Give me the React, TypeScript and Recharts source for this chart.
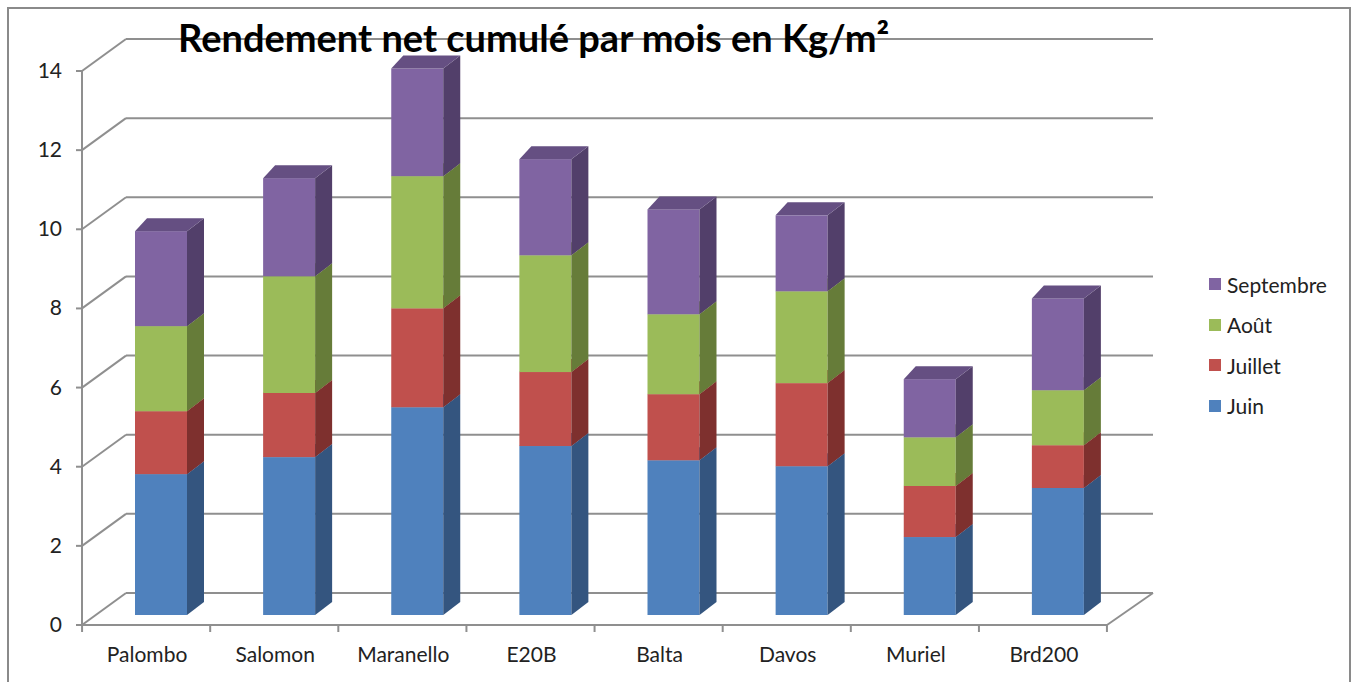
import { BarChart, Bar, XAxis, YAxis, CartesianGrid, Legend } from "recharts";

const varieties = ["Palombo", "Salomon", "Maranello", "E20B", "Balta", "Davos", "Muriel", "Brd200"];

// monthly net yield (kg/m²), stacked
const juin = [3.56, 3.99, 5.25, 4.27, 3.91, 3.76, 1.97, 3.21];
const juillet = [1.59, 1.62, 2.5, 1.87, 1.67, 2.1, 1.29, 1.08];
const aout = [2.15, 2.95, 3.34, 2.95, 2.02, 2.32, 1.23, 1.39];
const septembre = [2.4, 2.48, 2.72, 2.43, 2.65, 1.92, 1.47, 2.32];

const yTicks = [0, 2, 4, 6, 8, 10, 12, 14];

const SERIES = [
  { key: "juin", name: "Juin", front: "#4F81BD", side: "#34557F", top: "#4572A8" },
  { key: "juillet", name: "Juillet", front: "#C0504D", side: "#7E302E", top: "#A64340" },
  { key: "aout", name: "Août", front: "#9BBB59", side: "#667C39", top: "#86A34B" },
  { key: "septembre", name: "Septembre", front: "#8064A2", side: "#523F6A", top: "#654F82" },
];

const data = varieties.map((name, i) => ({
  name,
  juin: juin[i],
  juillet: juillet[i],
  aout: aout[i],
  septembre: septembre[i],
}));

const FONT = "Lato, 'Open Sans', sans-serif";
const GRID = "#8f8f8f";
// 3D offsets: front wall vs bar plane vs back wall
const FRONT_DY = 10;
const BACK_DY = -22;
const FRONT_DX = -15;
const BACK_DX = 29;
const LEGEND_W = 140;

const box3D = (front: string, side: string, top: string) => (props: any) => {
  const { x, y, width, height } = props;
  if (!height || height <= 0) return <g />;
  const r = x + width;
  const b = y + height;
  return (
    <g>
      <rect x={x} y={y} width={width} height={height} fill={front} />
      <polygon points={`${r},${y} ${r + 17},${y - 13} ${r + 17},${b - 13} ${r},${b}`} fill={side} />
      <polygon points={`${x},${y} ${r},${y} ${r + 17},${y - 13} ${x + 12},${y - 13}`} fill={top} />
    </g>
  );
};

const gridLine = (props: any) => {
  const { x1, x2, y1, y, height } = props;
  const bottom = y + height;
  const fx = x1 + FRONT_DX;
  const bx = x1 + BACK_DX;
  const fy = y1 + FRONT_DY;
  const by = y1 + BACK_DY;
  const isFloor = Math.abs(y1 - bottom) < 1;
  return (
    <g stroke={GRID} strokeWidth={2} fill="none">
      <line x1={bx} y1={by} x2={x2 + 31} y2={by} />
      <line x1={fx} y1={fy} x2={bx} y2={by} />
      <line x1={fx - 6} y1={fy} x2={fx} y2={fy} />
      <line x1={fx} y1={fy} x2={fx} y2={bottom + FRONT_DY} />
      {isFloor && (
        <>
          <line x1={fx} y1={fy} x2={x2 + FRONT_DX} y2={fy} />
          <line x1={x2 + FRONT_DX} y1={fy} x2={x2 + 31} y2={by} />
        </>
      )}
    </g>
  );
};

const YTick = (props: any) => {
  const { x, y, payload } = props;
  return (
    <text x={x - 35} y={y + FRONT_DY + 7} textAnchor="end" fontSize={21} fill="#222" fontFamily={FONT}>
      {payload.value}
    </text>
  );
};

const XTick = (props: any) => {
  const { x, y, payload, index } = props;
  const fy = y + FRONT_DY;
  return (
    <g>
      <line x1={x - 79} y1={fy} x2={x - 79} y2={fy + 7} stroke={GRID} strokeWidth={2} />
      {index === varieties.length - 1 && (
        <line x1={x + 49} y1={fy} x2={x + 49} y2={fy + 7} stroke={GRID} strokeWidth={2} />
      )}
      <text x={x - 14} y={y + 47} textAnchor="middle" fontSize={21} fill="#222" fontFamily={FONT}>
        {payload.value}
      </text>
    </g>
  );
};

const LegendBox = () => {
  const items = [...SERIES].reverse();
  return (
    <div style={{ fontFamily: FONT, fontSize: 21, color: "#222", width: LEGEND_W }}>
      {items.map((it) => (
        <div key={it.key} style={{ display: "flex", alignItems: "center", height: 40.5 }}>
          <span style={{ width: 12, height: 12, background: it.front, marginRight: 6, display: "inline-block" }} />
          <span>{it.name}</span>
        </div>
      ))}
    </div>
  );
};

export default function App() {
  return (
    <div style={{ position: "absolute", left: 0, top: 0, width: 1357, height: 682, background: "#fff", overflow: "hidden" }}>
      <div
        style={{
          position: "absolute",
          left: 7,
          top: 7,
          width: 1340,
          height: 700,
          border: "2px solid #8a8a8a",
        }}
      />
      <BarChart
        width={1357}
        height={682}
        data={data}
        margin={{ top: 61, right: 235 - LEGEND_W, left: 0, bottom: 0 }}
        barSize={52}
      >
        <CartesianGrid vertical={false} horizontal={gridLine} />
        <XAxis
          dataKey="name"
          height={67}
          tickSize={0}
          tickMargin={0}
          axisLine={false}
          tickLine={false}
          tick={<XTick />}
          interval={0}
        />
        <YAxis
          type="number"
          domain={[0, 14]}
          ticks={yTicks}
          width={97}
          tickSize={0}
          tickMargin={0}
          axisLine={false}
          tickLine={false}
          tick={<YTick />}
        />
        <Legend
          layout="vertical"
          align="right"
          verticalAlign="top"
          content={<LegendBox />}
          wrapperStyle={{ position: "absolute", left: 1209, top: 264, width: LEGEND_W }}
        />
        {SERIES.map((s) => (
          <Bar
            key={s.key}
            dataKey={s.key}
            name={s.name}
            stackId="a"
            fill={s.front}
            shape={box3D(s.front, s.side, s.top)}
            isAnimationActive={false}
          />
        ))}
      </BarChart>
      <svg width={1357} height={682} style={{ position: "absolute", left: 0, top: 0, pointerEvents: "none" }}>
        <text x={178} y={52} fontSize={38} fontWeight="bold" fontFamily={FONT} fill="#000">
          Rendement net cumulé par mois en Kg/m²
        </text>
      </svg>
    </div>
  );
}
